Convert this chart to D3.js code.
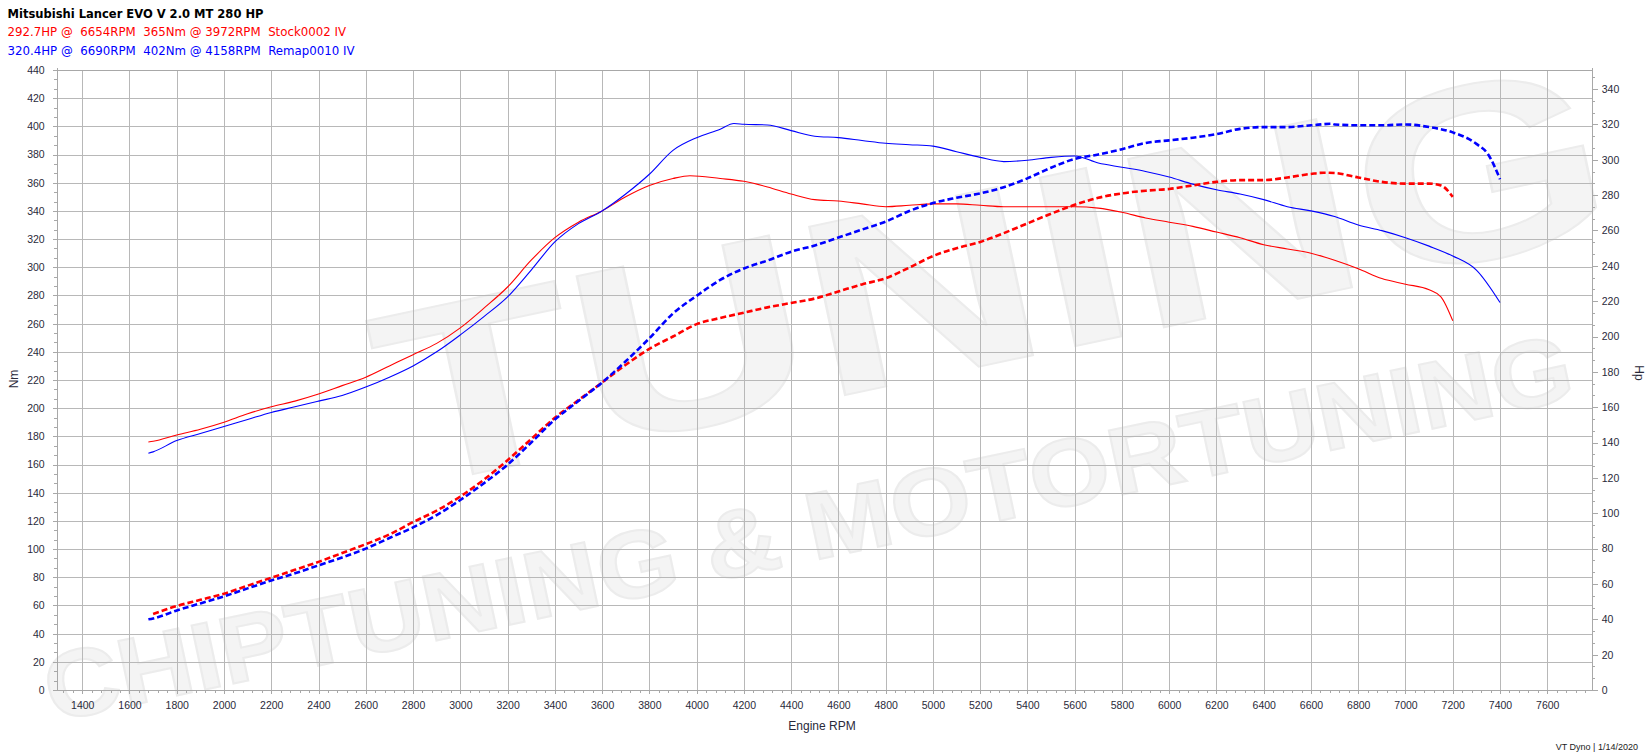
<!DOCTYPE html>
<html><head><meta charset="utf-8">
<script src="https://cdn.jsdelivr.net/npm/d3@7/dist/d3.min.js"></script>
<style>html,body{margin:0;padding:0;background:#fff;overflow:hidden}svg{display:block}</style>
</head><body><svg id="chart" width="1648" height="754"></svg>
<script>
// ---------- data ----------
const title = "Mitsubishi Lancer EVO V 2.0 MT 280 HP";
const legendLines = [
  "292.7HP @  6654RPM  365Nm @ 3972RPM  Stock0002 IV",
  "320.4HP @  6690RPM  402Nm @ 4158RPM  Remap0010 IV"
];
const seriesColors = ["#ff0000", "#0000ff"];
const xTicks = [1400,1600,1800,2000,2200,2400,2600,2800,3000,3200,3400,3600,3800,4000,4200,4400,4600,4800,5000,5200,5400,5600,5800,6000,6200,6400,6600,6800,7000,7200,7400,7600];
const nmTicks = [0,20,40,60,80,100,120,140,160,180,200,220,240,260,280,300,320,340,360,380,400,420,440];
const hpTicks = [0,20,40,60,80,100,120,140,160,180,200,220,240,260,280,300,320,340];
const xLabel = "Engine RPM", yLeftLabel = "Nm", yRightLabel = "Hp";
const footer = "VT Dyno | 1/14/2020";
const watermarkTexts = ["TUNING", "CHIPTUNING & MOTORTUNING"];

// Stock torque (Nm)
const stockNmRpm = [1680,1700,1800,1900,2000,2100,2200,2300,2400,2500,2600,2700,2800,2900,3000,3100,3200,3300,3400,3500,3600,3700,3800,3900,3972,4100,4200,4300,4400,4500,4600,4700,4800,4900,5000,5100,5200,5300,5400,5500,5600,5700,5800,5900,6000,6100,6200,6300,6400,6500,6600,6700,6800,6900,7000,7100,7150,7200];
const stockNm    = [176,176.5,181,185,190,196,201,205,210,216,222,230,238,246,257,271,286,305,321,332,340,350,358,363,365,363,361,357,352,348,347,345,343,344,345,345,344,343,343,343,343,342,339,335,332,329,325,321,316,313,310,305,299,292,288,284,279,262];
// Remap torque (Nm)
const remapNmRpm = [1680,1700,1800,1900,2000,2100,2200,2300,2400,2500,2600,2700,2800,2900,3000,3100,3200,3300,3400,3500,3600,3700,3800,3900,4000,4100,4158,4200,4300,4400,4500,4600,4700,4800,4900,5000,5100,5200,5300,5400,5500,5600,5700,5800,5900,6000,6100,6200,6300,6400,6500,6600,6700,6800,6900,7000,7100,7200,7300,7400];
const remapNm    = [168,169,177,182,187,192,197,201,205,209,215,222,230,240,252,265,279,298,318,331,340,352,366,383,392,398,402,401.5,401,397,393,392,390,388,387,386,382,378,375,376,378,379,374,371,368,364,359,355,352,348,343,340,336,330,326,321,315,308,298,275];
// Stock power (HP)
const stockHpRpm = [1700,1800,1900,2000,2100,2200,2300,2400,2500,2600,2700,2800,2900,3000,3100,3200,3300,3400,3500,3600,3700,3800,3900,4000,4100,4200,4300,4400,4500,4600,4700,4800,4900,5000,5100,5200,5300,5400,5500,5600,5700,5800,5900,6000,6100,6200,6300,6400,6500,6600,6654,6700,6800,6900,7000,7100,7150,7200];
const stockHp    = [43,47.5,51,54.5,59,63.5,68,72.5,77.5,82.5,88,95,101.5,109.5,119,130,142,154,164,174,184,193,200,207,210.5,213.5,216.5,219,221.5,225.5,229.5,233,239,245.5,250,253.5,258.5,264,269.5,274.5,278.5,281,282.5,283.5,285.5,287.5,288.5,288.5,290,292,292.7,292.5,290,287.5,286.5,286.5,285.5,279];
// Remap power (HP)
const remapHpRpm = [1680,1700,1800,1900,2000,2100,2200,2300,2400,2500,2600,2700,2800,2900,3000,3100,3200,3300,3400,3500,3600,3700,3800,3900,4000,4100,4200,4300,4400,4500,4600,4700,4800,4900,5000,5100,5200,5300,5400,5500,5600,5700,5800,5900,6000,6100,6200,6300,6400,6500,6600,6690,6700,6800,6900,7000,7100,7200,7300,7350,7400];
const remapHp    = [40,40.5,45,49,53,57.5,62,66,70.5,75,80,86,92,99,107.5,117,127.5,140,153,163.5,174,186,199,213,223,232,238.5,243,248,251.5,256,260.5,265,271,275.5,278.5,281,284.5,289.5,295.5,300.5,303,306,309.5,311,312.5,314.5,317.5,318.5,318.5,319.5,320.4,320,319.5,319.5,320,318.5,315.5,309,303,289];

// ---------- layout ----------
const L = 56.7, R = 1591.7, T = 70, B = 690;
const svg = d3.select("#chart");
const x = d3.scaleLinear().domain([1292, 7788]).range([L, R]);
const yNm = d3.scaleLinear().domain([0, 440]).range([B, T]);
const yHp = d3.scaleLinear().domain([0, 350.8]).range([B, T]);
const gridCol = "#b8b8b8", axisCol = "#a8a8a8", labelCol = "#2a2a3a";
const tickFont = "'Liberation Sans', Arial, sans-serif";
const headFont = "'DejaVu Sans Condensed', 'Liberation Sans', Arial, sans-serif";
const px = v => Math.round(v) + 0.5;

// watermark (very faint)
const wm = svg.append("g").attr("fill", "#f4f4f4").attr("stroke", "#ececec").attr("stroke-width", 2)
  .attr("font-family", "'Liberation Sans', Arial, sans-serif").attr("font-weight", "bold");
wm.append("text").attr("transform", "translate(1010,360) rotate(-12)")
  .attr("text-anchor", "middle").attr("font-size", 250).attr("textLength", 1250)
  .attr("lengthAdjust", "spacingAndGlyphs").text(watermarkTexts[0]);
wm.append("text").attr("transform", "translate(815,560) rotate(-12)")
  .attr("text-anchor", "middle").attr("font-size", 95).attr("textLength", 1560)
  .attr("lengthAdjust", "spacingAndGlyphs").text(watermarkTexts[1]);

// grid
const grid = svg.append("g").attr("stroke", gridCol).attr("stroke-width", 1).attr("shape-rendering", "crispEdges");
grid.selectAll(".vg").data(xTicks).join("line")
  .attr("x1", d => px(x(d))).attr("x2", d => px(x(d))).attr("y1", T).attr("y2", B + 3);
grid.selectAll(".hg").data(nmTicks).join("line")
  .attr("x1", L - 4).attr("x2", R).attr("y1", d => px(yNm(d))).attr("y2", d => px(yNm(d)));

// axes
function styleAxis(g) {
  g.select(".domain").remove();
  g.selectAll("line").attr("stroke", axisCol).attr("shape-rendering", "crispEdges");
  g.selectAll("text").attr("fill", labelCol).attr("font-family", tickFont).attr("font-size", 10.5);
}
const xMinor = d3.range(1320, 7788, 40).filter(v => v % 200 !== 0);
svg.append("g").attr("transform", `translate(0,${B})`)
  .call(d3.axisBottom(x).tickValues(xMinor).tickSize(3).tickFormat(""))
  .call(styleAxis);
svg.append("g").attr("transform", `translate(0,${B})`)
  .call(d3.axisBottom(x).tickValues(xTicks).tickSize(4).tickPadding(8).tickFormat(d3.format("d")))
  .call(styleAxis);

const nmMinor = d3.range(0, 440, 20 / 3).filter((v, i) => i % 3 !== 0);
svg.append("g").attr("transform", `translate(${L},0)`)
  .call(d3.axisLeft(yNm).tickValues(nmMinor).tickSize(3).tickFormat(""))
  .call(styleAxis);
svg.append("g").attr("transform", `translate(${L},0)`)
  .call(d3.axisLeft(yNm).tickValues(nmTicks).tickSize(4).tickPadding(8).tickFormat(d3.format("d")))
  .call(styleAxis);

const hpMinor = d3.range(0, 350, 20 / 3).filter((v, i) => i % 3 !== 0);
svg.append("g").attr("transform", `translate(${R},0)`)
  .call(d3.axisRight(yHp).tickValues(hpMinor).tickSize(3).tickFormat(""))
  .call(styleAxis);
svg.append("g").attr("transform", `translate(${R},0)`)
  .call(d3.axisRight(yHp).tickValues(hpTicks).tickSize(6).tickPadding(4).tickFormat(d3.format("d")))
  .call(styleAxis);

// frame
const fr = svg.append("g").attr("stroke", axisCol).attr("shape-rendering", "crispEdges");
fr.append("line").attr("x1", px(L)).attr("x2", px(L)).attr("y1", T - 2).attr("y2", B + 1);
fr.append("line").attr("x1", px(R)).attr("x2", px(R)).attr("y1", T - 2).attr("y2", B + 1);
fr.append("line").attr("x1", L).attr("x2", R).attr("y1", px(T)).attr("y2", px(T));
fr.append("line").attr("x1", L).attr("x2", R).attr("y1", px(B)).attr("y2", px(B));

// curves
const plot = svg.append("g");
function drawLine(rpm, vals, yScale, color, dashed) {
  const pts = rpm.map((r, i) => [r, vals[i]]);
  plot.append("path").datum(pts)
    .attr("fill", "none").attr("stroke", color)
    .attr("stroke-width", dashed ? 2.6 : 1.1)
    .attr("stroke-dasharray", dashed ? "6,3" : null)
    .attr("stroke-linejoin", "round")
    .attr("d", d3.line().x(d => x(d[0])).y(d => yScale(d[1])).curve(d3.curveMonotoneX));
}
drawLine(stockNmRpm, stockNm, yNm, seriesColors[0], false);
drawLine(remapNmRpm, remapNm, yNm, seriesColors[1], false);
drawLine(stockHpRpm, stockHp, yHp, seriesColors[0], true);
drawLine(remapHpRpm, remapHp, yHp, seriesColors[1], true);

// header
svg.append("text").attr("x", 7.5).attr("y", 18.3).attr("font-family", headFont).attr("font-weight", "bold")
  .attr("font-size", 13).attr("fill", "#000").attr("textLength", 256).attr("lengthAdjust", "spacingAndGlyphs").text(title);
const legendLengths = [338.5, 347];
legendLines.forEach((t, i) => {
  svg.append("text").attr("x", 7.5).attr("y", 36 + i * 19).attr("font-family", headFont)
    .attr("font-size", 13).attr("fill", seriesColors[i]).style("white-space", "pre")
    .attr("textLength", legendLengths[i]).attr("lengthAdjust", "spacingAndGlyphs").text(t);
});

// axis titles
svg.append("text").attr("x", 822).attr("y", 730).attr("text-anchor", "middle")
  .attr("font-family", tickFont).attr("font-size", 12).attr("fill", labelCol).text(xLabel);
svg.append("text").attr("transform", "translate(18,379) rotate(-90)").attr("text-anchor", "middle")
  .attr("font-family", tickFont).attr("font-size", 12).attr("fill", labelCol).text(yLeftLabel);
svg.append("text").attr("transform", "translate(1635,373) rotate(90)").attr("text-anchor", "middle")
  .attr("font-family", tickFont).attr("font-size", 12).attr("fill", labelCol).text(yRightLabel);
svg.append("text").attr("x", 1638).attr("y", 750).attr("text-anchor", "end")
  .attr("font-family", tickFont).attr("font-size", 9).attr("fill", "#222").text(footer);
</script></body></html>
